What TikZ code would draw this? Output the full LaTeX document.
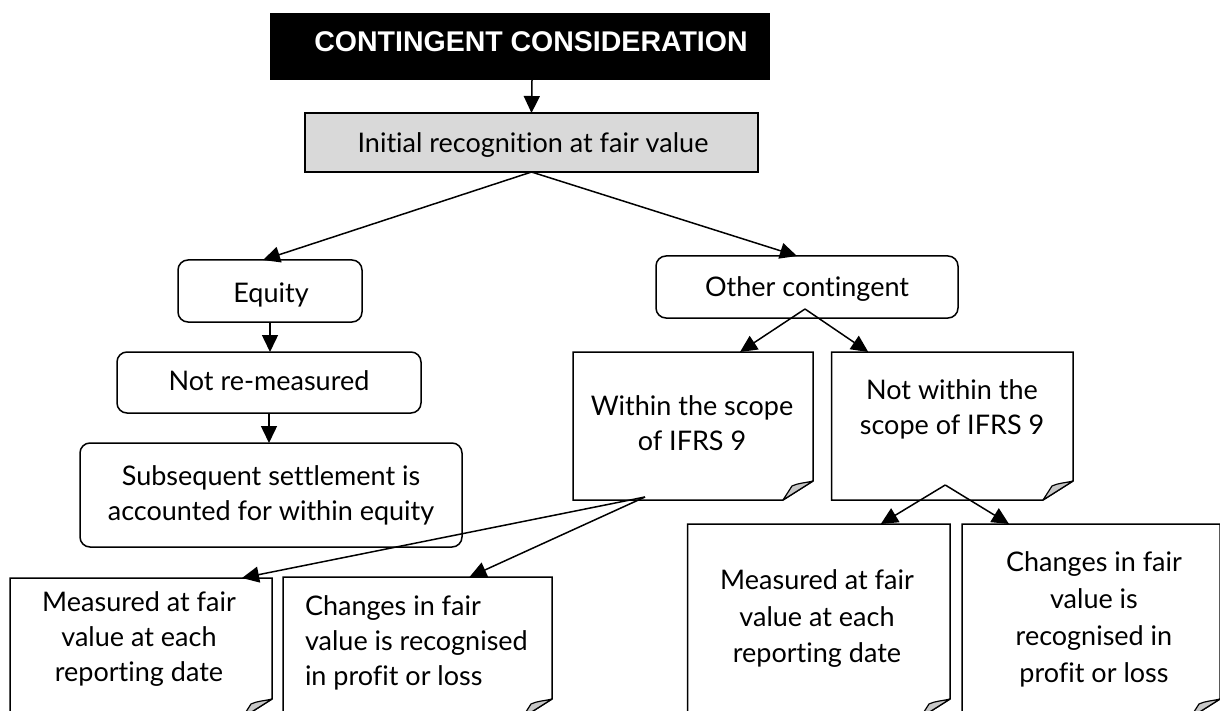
\documentclass[tikz,border=0pt]{standalone}
\usepackage{fontspec}
\setmainfont{Lato}[Ligatures={NoCommon}]
\newfontfamily\headfont{Liberation Sans}
\usetikzlibrary{arrows.meta}

% outline of a note with a folded bottom-right corner
\newcommand\foldednote[1]{%
  \draw[noteline] (#1.north west) -- (#1.north east)
    -- ([yshift=19pt]#1.south east) -- ([xshift=-30pt]#1.south east)
    -- (#1.south west) -- cycle;
  \filldraw[foldpart] ([yshift=19pt]#1.south east)
    .. controls ([xshift=-8pt,yshift=17pt]#1.south east)
       and ([xshift=-15pt,yshift=17pt]#1.south east)
    .. ([xshift=-21pt,yshift=14pt]#1.south east)
    -- ([xshift=-30pt]#1.south east) -- cycle;
}

\begin{document}
\begin{tikzpicture}[x=1pt,y=-1pt,
  every node/.style={inner sep=0pt, outer sep=0pt},
  sq/.style 2 args={draw, line width=1.5pt, minimum width=#1, minimum height=#2},
  rnd/.style 2 args={draw, line width=1.5pt, rounded corners=10pt, minimum width=#1, minimum height=#2},
  note/.style 2 args={minimum width=#1, minimum height=#2},
  noteline/.style={line width=1.5pt, line join=miter},
  foldpart/.style={fill=black!22, draw=black, line width=1.2pt, line join=round},
  txt/.style={font=\fontsize{27}{35}\selectfont, align=center},
  link/.style={-{Triangle[length=17pt,width=16pt]}, line width=1.5pt}
]
\useasboundingbox (0,0) rectangle (1220,711);
\clip (0,0) rectangle (1220,711);

% boxes
\node[fill=black, minimum width=500pt, minimum height=67pt] (title) at (520,46.5) {};
\node[sq={453pt}{59pt}, fill=black!15] (initial) at (531.5,142.5) {};
\node[rnd={184pt}{62pt}] (equity) at (270,291) {};
\node[rnd={304pt}{61pt}] (notre) at (269,382.5) {};
\node[rnd={382pt}{104pt}] (subseq) at (271,495) {};
\node[rnd={302pt}{62pt}] (other) at (807,287) {};
\node[note={240pt}{148pt}] (within) at (693,426) {};
\node[note={241.5pt}{148pt}] (notwithin) at (952.25,426) {};
\node[note={262pt}{140pt}] (measL) at (141,648) {};
\node[note={269pt}{141pt}] (chgL) at (417.5,647.5) {};
\node[note={262.4pt}{194pt}] (measR) at (818.8,621) {};
\node[note={258pt}{194pt}] (chgR) at (1091,621) {};
\foreach \n in {within,notwithin,measL,chgL,measR,chgR} {\foldednote{\n}}

% texts
\node[text=white, font=\headfont\bfseries\fontsize{28.5}{32}\selectfont] (titletext) at (531,42) {CONTINGENT CONSIDERATION};
\node[txt] (initialtext) at (533,145) {Initial recognition at fair value};
\node[txt] (equitytext) at (271,294.5) {Equity};
\node[txt] (notretext) at (269,381) {Not re-measured};
\node[txt] (subseqtext) at (271,495.5) {Subsequent settlement is\\accounted for within equity};
\node[txt] (othertext) at (807,289.5) {Other contingent};
\node[txt] (withintext) at (692,423) {Within the scope\\of IFRS 9};
\node[txt] (notwithintext) at (952,409.5) {Not within the\\scope of IFRS 9};
\node[txt] (measLtext) at (139,639.5) {Measured at fair\\value at each\\reporting date};
\node[txt, align=left, anchor=west] (chgLtext) at (305,642.5) {Changes in fair\\value is recognised\\in profit or loss};
\node[txt, font=\fontsize{27}{36.5}\selectfont] (measRtext) at (817,619) {Measured at fair\\value at each\\reporting date};
\node[txt, font=\fontsize{27}{37}\selectfont] (chgRtext) at (1094,619) {Changes in fair\\value is\\recognised in\\profit or loss};

% connectors
\draw[link] ([xshift=12pt]title.south) -- (initial.north);
\draw[link] (initial.south) -- ([xshift=-7pt]equity.north);
\draw[link] (initial.south) -- ([xshift=-10pt]other.north);
\draw[link] (equity.south) -- (equity.south |- notre.north);
\draw[link] (notre.south) -- (notre.south |- subseq.north);
\draw[link] ([xshift=-2pt,yshift=9pt]other.south) -- ([xshift=47pt]within.north);
\draw[link] ([xshift=-2pt,yshift=9pt]other.south) -- ([xshift=-84pt]notwithin.north);
\draw[link] ([xshift=-48pt,yshift=3pt]within.south) -- ([xshift=101pt]measL.north);
\draw[link] ([xshift=-48pt,yshift=3pt]within.south) -- ([xshift=52pt]chgL.north);
\draw[link] ([xshift=-7pt,yshift=15pt]notwithin.south) -- ([xshift=62pt]measR.north);
\draw[link] ([xshift=-7pt,yshift=15pt]notwithin.south) -- ([xshift=-82pt]chgR.north);
\end{tikzpicture}
\end{document}
